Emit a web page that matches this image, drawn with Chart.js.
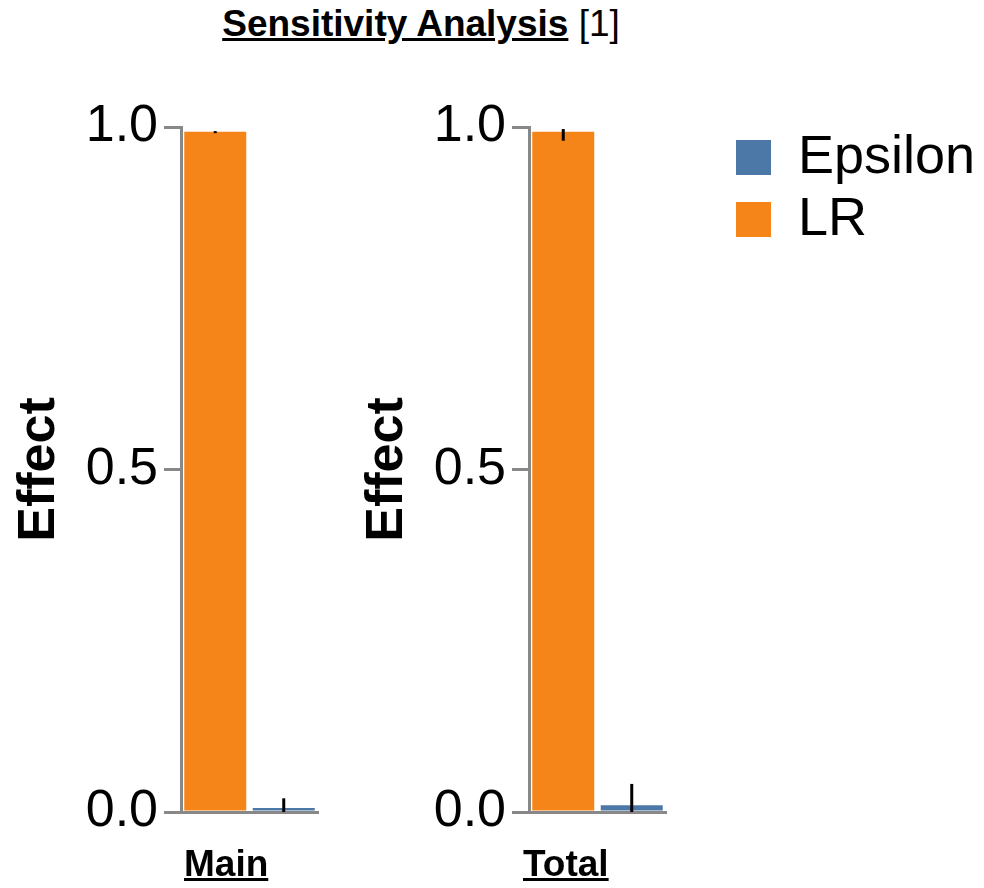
<!DOCTYPE html>
<html>
<head>
<meta charset="utf-8">
<script src="https://cdn.jsdelivr.net/npm/chart.js@4/dist/chart.umd.min.js"></script>
<style>
  body { margin: 0; background: #fff; font-family: "Liberation Sans", Arial, sans-serif; }
  #wrap { position: relative; width: 984px; height: 888px; }
  .panel { position: absolute; top: 87px; width: 330px; height: 763px; }
  #title { position: absolute; top: 3px; left: 0; width: 842px; text-align: center; font-size: 37px; }
  #title b { text-decoration: underline; }
  .facet { position: absolute; top: 843px; font-size: 37px; font-weight: bold; text-decoration: underline; }
  .legend { position: absolute; left: 736px; font-size: 54px; line-height: 61px; }
  .legend span { display: inline-block; width: 35px; height: 35px; margin-right: 27px; vertical-align: -2px; }
</style>
</head>
<body>
<div id="wrap">
  <div id="title"><b>Sensitivity Analysis</b> [1]</div>
  <div class="panel" style="left:0"><canvas id="chartMain"></canvas></div>
  <div class="panel" style="left:348px"><canvas id="chartTotal"></canvas></div>
  <div class="facet" style="left:184px">Main</div>
  <div class="facet" style="left:523px">Total</div>
  <div class="legend" style="top:124px"><span style="background:#4c78a8"></span>Epsilon</div>
  <div class="legend" style="top:186px"><span style="background:#f58518"></span>LR</div>
</div>
<script>
let categories = ["LR", "Epsilon"];
let barColors = ["#f58518", "#4c78a8"];
let tickValues = [0, 0.5, 1.0];

let mainValues = [0.993, 0.006];
let mainLow = [0.991, -0.009];
let mainHigh = [0.994, 0.020];

let totalValues = [0.993, 0.010];
let totalLow = [0.980, -0.021];
let totalHigh = [0.997, 0.041];

// draws the black error bars from the low/high arrays
let errorBars = {
    id: "errorBars",
    afterDatasetsDraw(chart) {
        let ctx = chart.ctx;
        let y = chart.scales.y;
        let area = chart.chartArea;
        let lo = chart.options.plugins.errorBars.low;
        let hi = chart.options.plugins.errorBars.high;
        let meta = chart.getDatasetMeta(0);
        ctx.save();
        ctx.strokeStyle = "#000";
        ctx.lineWidth = 3;
        meta.data.forEach(function(bar, i) {
            let y1 = Math.min(y.getPixelForValue(lo[i]), area.bottom);
            let y2 = Math.max(y.getPixelForValue(hi[i]), area.top);
            ctx.beginPath();
            ctx.moveTo(bar.x, y1);
            ctx.lineTo(bar.x, y2);
            ctx.stroke();
        });
        ctx.restore();
    }
};

function makeChart(id, values, low, high) {
    let ctx = document.getElementById(id).getContext("2d");
    return new Chart(ctx, {
        type: "bar",
        data: {
            labels: categories,
            datasets: [{
                data: values,
                backgroundColor: barColors,
                barPercentage: 0.905,
                categoryPercentage: 1.0
            }]
        },
        options: {
            responsive: true,
            maintainAspectRatio: false,
            animation: false,
            layout: { padding: { top: 40, right: 12, bottom: 38, left: 0 } },
            plugins: {
                legend: { display: false },
                tooltip: { enabled: false },
                errorBars: { low: low, high: high }
            },
            scales: {
                x: {
                    ticks: { display: false },
                    grid: { display: false },
                    border: { display: true, color: "#888", width: 3 },
                    afterFit: function(s) { s.height = 0; }
                },
                y: {
                    min: 0,
                    max: 1,
                    afterBuildTicks: function(s) { s.ticks = tickValues.map(v => ({ value: v })); },
                    ticks: {
                        color: "#000",
                        padding: 6,
                        font: { family: "Liberation Sans", size: 52 },
                        callback: v => v.toFixed(1)
                    },
                    grid: { drawOnChartArea: false, drawTicks: true, tickLength: 17, color: "#888", lineWidth: 3 },
                    border: { display: true, color: "#888", width: 3 },
                    title: {
                        display: true,
                        text: "Effect",
                        color: "#000",
                        padding: 8,
                        font: { family: "Liberation Sans", size: 52, weight: "bold" }
                    },
                    afterFit: function(s) { s.width = 181; }
                }
            }
        },
        plugins: [errorBars]
    });
}

makeChart("chartMain", mainValues, mainLow, mainHigh);
makeChart("chartTotal", totalValues, totalLow, totalHigh);
</script>
</body>
</html>
